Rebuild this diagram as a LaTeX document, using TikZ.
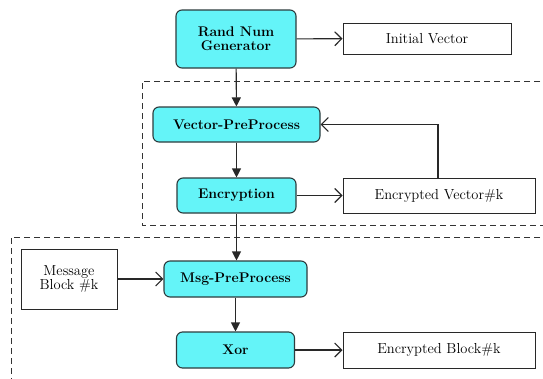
\documentclass[tikz,border=0pt]{standalone}
\usetikzlibrary{arrows.meta,calc}
\definecolor{procfill}{RGB}{100,244,248}
\definecolor{procline}{RGB}{45,60,62}
\definecolor{wire}{RGB}{40,40,40}
\tikzset{
  proc/.style={draw=procline, line width=1.1pt, fill=procfill, rounded corners=6pt,
    font=\rmfamily\bfseries\fontsize{14}{16}\selectfont, align=center, inner sep=0pt},
  databox/.style={draw=wire, line width=1pt, fill=white,
    font=\rmfamily\fontsize{14.5}{16}\selectfont, align=center, inner sep=0pt},
  flowdown/.style={draw=wire, line width=1.1pt, -{Triangle[width=9pt,length=9pt]}},
  flowright/.style={draw=wire, line width=1.1pt,
    -{Straight Barb[length=7pt, width=14pt]}},
  group/.style={draw=black!80, line width=0.9pt, dash pattern=on 6pt off 4pt}
}
\begin{document}
\begin{tikzpicture}[x=1pt,y=-1pt]
  \useasboundingbox (0,0) rectangle (543,378);
  \fill[white] (0,0) rectangle (543,378);

  % dashed groupings
  \draw[group] (600,81) -- (142,81) -- (142,225) -- (600,225);
  \draw[group] (600,237) -- (11,237) -- (11,420);

  % processing steps
  \node[proc, minimum width=120pt, minimum height=58pt] (rng) at (236,39) {Rand Num\\[-2pt]Generator};
  \node[proc, minimum width=167pt, minimum height=35pt] (vpp) at (236.5,124.5) {Vector-PreProcess};
  \node[proc, minimum width=119pt, minimum height=35pt] (enc) at (236.5,195.5) {Encryption};
  \node[proc, minimum width=143pt, minimum height=36pt] (mpp) at (235.5,279) {Msg-PreProcess};
  \node[proc, minimum width=118pt, minimum height=36pt] (xor) at (235.5,350) {Xor};

  % data items
  \node[databox, minimum width=168pt, minimum height=31pt] (iv) at (427,38.5) {Initial Vector};
  \node[databox, minimum width=192pt, minimum height=35pt] (ev) at (439,195.5) {Encrypted Vector\#k};
  \node[databox, minimum width=96pt, minimum height=60pt] (mb) at (69,279) {Message\\[-2pt]Block \#k};
  \node[databox, minimum width=192pt, minimum height=36pt] (eb) at (439,350) {Encrypted Block\#k};

  % flow downwards
  \draw[flowdown] (rng) -- (vpp);
  \draw[flowdown] (vpp) -- (enc);
  \draw[flowdown] (enc.south) -- (mpp.north -| enc.south);
  \draw[flowdown] (mpp) -- (xor);

  % outputs and inputs
  \draw[flowright] (rng) -- (iv);
  \draw[flowright] (enc) -- (ev);
  \draw[flowright] (mb) -- (mpp);
  \draw[flowright] (xor) -- (eb);

  % feedback of the encrypted vector
  \draw[flowright] ($(ev.north west)!0.495!(ev.north east)$) |- (vpp.east);
\end{tikzpicture}
\end{document}
